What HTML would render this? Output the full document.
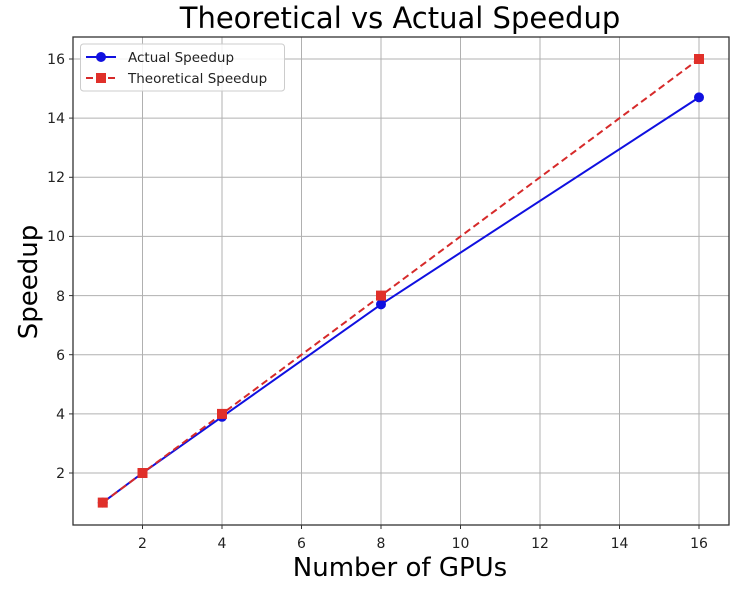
<!DOCTYPE html>
<html><head><style>body{margin:0;background:#fff}</style></head><body>
<svg width="756" height="584" xmlns="http://www.w3.org/2000/svg" font-family="DejaVu Sans, Liberation Sans, sans-serif">
<rect width="756" height="584" fill="#fff"/>
<text x="400" y="28" font-size="29" text-anchor="middle" fill="#000">Theoretical vs Actual Speedup</text>
<g stroke="#b0b0b0" stroke-width="1">
<line x1="142.5" y1="37" x2="142.5" y2="525"/><line x1="222" y1="37" x2="222" y2="525"/><line x1="301.5" y1="37" x2="301.5" y2="525"/><line x1="381" y1="37" x2="381" y2="525"/><line x1="460.5" y1="37" x2="460.5" y2="525"/><line x1="540" y1="37" x2="540" y2="525"/><line x1="619.5" y1="37" x2="619.5" y2="525"/><line x1="699" y1="37" x2="699" y2="525"/>
<line x1="73" y1="473" x2="729" y2="473"/><line x1="73" y1="413.9" x2="729" y2="413.9"/><line x1="73" y1="354.7" x2="729" y2="354.7"/><line x1="73" y1="295.6" x2="729" y2="295.6"/><line x1="73" y1="236.4" x2="729" y2="236.4"/><line x1="73" y1="177.3" x2="729" y2="177.3"/><line x1="73" y1="118.1" x2="729" y2="118.1"/><line x1="73" y1="59" x2="729" y2="59"/>
</g>
<rect x="73" y="37" width="656" height="488" fill="none" stroke="#333" stroke-width="1.3"/>
<g stroke="#333"><line x1="142.5" y1="525" x2="142.5" y2="529"/><line x1="222" y1="525" x2="222" y2="529"/><line x1="301.5" y1="525" x2="301.5" y2="529"/><line x1="381" y1="525" x2="381" y2="529"/><line x1="460.5" y1="525" x2="460.5" y2="529"/><line x1="540" y1="525" x2="540" y2="529"/><line x1="619.5" y1="525" x2="619.5" y2="529"/><line x1="699" y1="525" x2="699" y2="529"/>
<line x1="69" y1="473" x2="73" y2="473"/><line x1="69" y1="413.9" x2="73" y2="413.9"/><line x1="69" y1="354.7" x2="73" y2="354.7"/><line x1="69" y1="295.6" x2="73" y2="295.6"/><line x1="69" y1="236.4" x2="73" y2="236.4"/><line x1="69" y1="177.3" x2="73" y2="177.3"/><line x1="69" y1="118.1" x2="73" y2="118.1"/><line x1="69" y1="59" x2="73" y2="59"/></g>
<g font-size="14" fill="#222" text-anchor="middle"><text x="142.5" y="548">2</text><text x="222" y="548">4</text><text x="301.5" y="548">6</text><text x="381" y="548">8</text><text x="460.5" y="548">10</text><text x="540" y="548">12</text><text x="619.5" y="548">14</text><text x="699" y="548">16</text></g>
<g font-size="14" fill="#222" text-anchor="end"><text x="65" y="478">2</text><text x="65" y="419">4</text><text x="65" y="360">6</text><text x="65" y="301">8</text><text x="65" y="241">10</text><text x="65" y="182">12</text><text x="65" y="123">14</text><text x="65" y="64">16</text></g>
<text x="400" y="576" font-size="26" text-anchor="middle" fill="#000">Number of GPUs</text>
<text transform="translate(37,282) rotate(-90)" font-size="26" text-anchor="middle" fill="#000">Speedup</text>
<polyline points="102.75,502.6 142.5,473 222,416.8 381,304.4 699,97.4" fill="none" stroke="#1010e0" stroke-width="2"/>
<g fill="#1010e0"><circle cx="102.75" cy="502.6" r="5"/><circle cx="142.5" cy="473" r="5"/><circle cx="222" cy="416.8" r="5"/><circle cx="381" cy="304.4" r="5"/><circle cx="699" cy="97.4" r="5"/></g>
<polyline points="102.75,502.6 142.5,473 222,413.9 381,295.6 699,59" fill="none" stroke="#d62a2a" stroke-width="2" stroke-dasharray="7,4"/>
<g fill="#e0302a"><rect x="97.75" y="497.6" width="10" height="10"/><rect x="137.5" y="468" width="10" height="10"/><rect x="217" y="408.9" width="10" height="10"/><rect x="376" y="290.6" width="10" height="10"/><rect x="694" y="54" width="10" height="10"/></g>
<rect x="80.5" y="44" width="204" height="47" rx="3" fill="#fff" fill-opacity="0.85" stroke="#ccc"/>
<line x1="86" y1="57" x2="116" y2="57" stroke="#1010e0" stroke-width="2"/><circle cx="101" cy="57" r="5" fill="#1010e0"/>
<line x1="86" y1="78" x2="116" y2="78" stroke="#d62a2a" stroke-width="2" stroke-dasharray="7,4"/><rect x="96" y="73" width="10" height="10" fill="#e0302a"/>
<text x="128" y="62" font-size="13.5" fill="#222">Actual Speedup</text>
<text x="128" y="83" font-size="13.5" fill="#222">Theoretical Speedup</text>
</svg>
</body></html>
